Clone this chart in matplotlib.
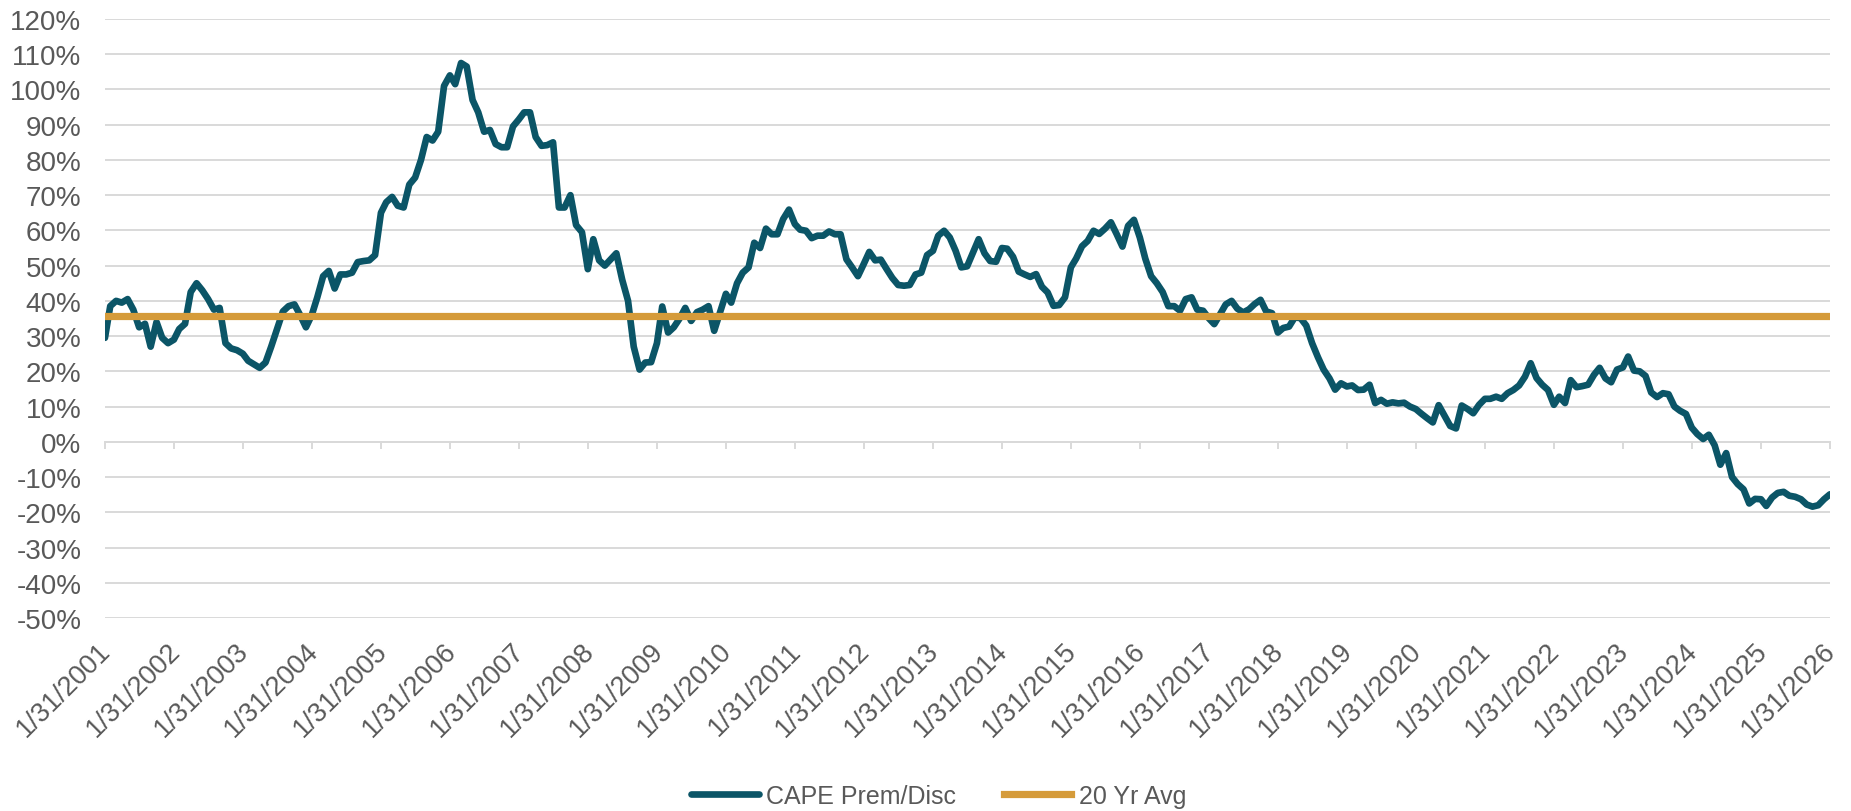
import matplotlib.pyplot as plt
import matplotlib.dates as mdates
import pandas as pd

plt.rcParams['font.family'] = ['Liberation Sans', 'DejaVu Sans']

# month-end observations, Jan 2001 .. Jan 2026
dates = pd.date_range("2001-01-31", "2026-01-31", freq="ME")

# CAPE premium / discount, percent
cape_prem = [
    29.5, 38.5, 40, 39.5, 40.5, 37.5, 32.5, 33.5, 27, 34, 29.5, 28,            # 2001
    29, 32, 33.5, 42.5, 45, 43, 40.5, 37.5, 38, 28, 26.5, 26,                  # 2002
    25, 23, 22, 21, 22.5, 27, 32, 37, 38.5, 39, 36, 32.5,                      # 2003
    36, 41, 47, 48.5, 43.5, 47.5, 47.5, 48, 51, 51.3, 51.5, 53,                # 2004
    65, 68, 69.5, 67, 66.5, 73, 75, 80, 86.5, 85.5, 88, 101,                   # 2005
    104, 101.5, 107.5, 106.5, 97, 93.5, 88, 88.5, 84.5, 83.6, 83.6, 89.5,      # 2006
    91.5, 93.5, 93.5, 86.5, 84, 84.2, 85, 66.5, 66.5, 70, 61.5, 59.5,          # 2007
    49, 57.5, 51.5, 50, 51.8, 53.5, 46, 40, 27, 20.5, 22.5, 22.6,              # 2008
    28, 38.4, 31, 32.5, 35, 38, 34.3, 36.8, 37.5, 38.5, 31.5, 36.7,            # 2009
    42, 39.5, 45, 48, 49.5, 56.5, 55, 60.5, 58.9, 58.9, 63.2, 65.9,            # 2010
    61.8, 60.2, 59.9, 57.8, 58.5, 58.5, 59.7, 58.9, 58.9, 51.8, 49.5, 47,      # 2011
    50.5, 53.9, 51.5, 51.7, 49, 46.5, 44.5, 44.3, 44.5, 47.5, 48, 53,          # 2012
    54.2, 58.5, 59.9, 58, 54.2, 49.5, 49.8, 53.7, 57.5, 53.5, 51.3, 51.1,      # 2013
    55, 54.8, 52.5, 48.3, 47.5, 46.8, 47.6, 44, 42.4, 38.6, 38.8, 41,          # 2014
    49.5, 52, 55.5, 57, 59.9, 59, 60.5, 62.3, 59, 55.4, 61.3, 63,              # 2015
    58, 52, 47, 45, 42.5, 38.5, 38.5, 37.2, 40.5, 41, 37.5, 37.2,              # 2016
    35, 33.4, 36.2, 39, 40, 37.8, 36.7, 37.6, 39.1, 40.3, 37, 36.5,            # 2017
    31, 32.3, 32.7, 35.3, 35.1, 33, 28, 24, 20.5, 18, 14.8, 16.6,              # 2018
    15.7, 16, 14.7, 14.8, 16.2, 11, 11.9, 10.8, 11.2, 10.9, 11.1, 10,          # 2019
    9.3, 8, 6.7, 5.5, 10.4, 7.5, 4.5, 3.8, 10.3, 9.3, 8.1, 10.5,               # 2020
    12.2, 12.2, 12.8, 12.2, 13.8, 14.7, 16, 18.5, 22.3, 18.1, 16.2, 14.7,      # 2021
    10.5, 12.8, 11, 17.5, 15.5, 15.8, 16.2, 19, 21, 18, 16.9, 20.5,            # 2022
    21.1, 24.2, 20.2, 20, 18.7, 14, 12.7, 13.8, 13.5, 10, 8.8, 7.9,            # 2023
    4, 2.2, 0.8, 2, -1, -6.5, -3.2, -10, -12, -13.5, -17.5, -16.2,             # 2024
    -16.3, -18.2, -15.8, -14.5, -14.2, -15.3, -15.6, -16.3, -17.8, -18.4, -18, -16.3,  # 2025
    -14.9,                                                                      # 2026
]
avg_20yr = 35.6

tick_dates = dates[::12]
tick_labels = [f"{d.month}/{d.day}/{d.year}" for d in tick_dates]
y_ticks = list(range(-50, 121, 10))
y_labels = [f"{v}%" for v in y_ticks]

teal = "#0b5567"
gold = "#d59b3a"
grid_c = "#d9d9d9"
text_c = "#595959"

fig = plt.figure(figsize=(18.51, 8.12), dpi=100)
ax = fig.add_axes([0.0567, 0.2377, 0.9319, 0.7377])

l1, = ax.plot(dates, cape_prem, color=teal, lw=4.8, solid_joinstyle="round",
              solid_capstyle="round", zorder=3)
l2, = ax.plot(dates, [avg_20yr] * len(dates), color=gold, lw=5.2, zorder=4)

ax.set_xlim(dates[0], dates[-1])
ax.set_ylim(-50, 120)
ax.set_yticks(y_ticks, labels=y_labels)
ax.grid(axis="y", color=grid_c, lw=1.4)
ax.set_axisbelow(True)

for s in ["top", "right", "left"]:
    ax.spines[s].set_visible(False)
ax.spines["bottom"].set_position(("data", 0))
ax.spines["bottom"].set_color(grid_c)
ax.spines["bottom"].set_linewidth(1.4)

ax.set_xticks(tick_dates)
ax.tick_params(axis="x", direction="out", length=5, width=1.4, color=grid_c,
               labelbottom=False)
ax.tick_params(axis="y", length=0, pad=17, labelsize=20, labelcolor=text_c)

# date labels sit under the plot area, not at the zero line
sec = ax.secondary_xaxis(0)
sec.set_xticks(mdates.date2num(tick_dates), labels=tick_labels)
sec.tick_params(length=0, pad=19, labelsize=19.5, labelcolor=text_c)
sec.spines["bottom"].set_visible(False)
for lbl in sec.get_xticklabels():
    lbl.set_rotation(45)
    lbl.set_ha("right")
    lbl.set_va("center_baseline")
    lbl.set_rotation_mode("anchor")

fig.legend([l1, l2], ["CAPE Prem/Disc", "20 Yr Avg"], loc="center",
           bbox_to_anchor=(0.507, 0.0185), ncol=2, frameon=False, fontsize=18,
           handlelength=2.7, handletextpad=0.3, columnspacing=1.9,
           labelcolor=text_c)

fig.savefig("out.png", dpi=100)
